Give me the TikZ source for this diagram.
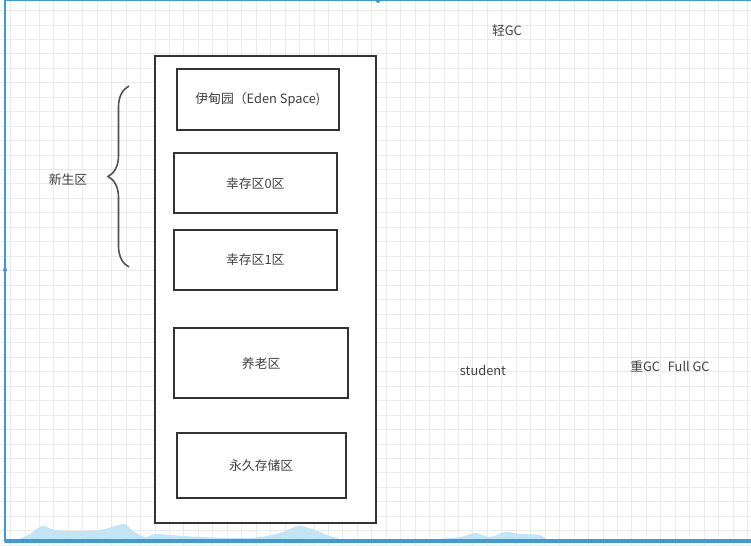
\documentclass[tikz,border=0pt]{standalone}
\usepackage{fontspec}
\setmainfont{Noto Sans CJK SC}
\usetikzlibrary{decorations,decorations.pathreplacing}
\colorlet{gridgray}{black!8}
\definecolor{framedark}{HTML}{333333}
\definecolor{textgray}{HTML}{404040}
\definecolor{edgeblue}{HTML}{3B9BDB}
\definecolor{waveblue}{HTML}{C3E4F3}

\begin{document}
\begin{tikzpicture}[x=0.02cm,y=-0.02cm,
    zone/.style={draw=framedark, line width=1.1pt, fill=white, inner sep=0pt,
        font=\fontsize{7.3}{9}\selectfont, text=textgray},
    note/.style={inner sep=0pt, font=\fontsize{7.3}{9}\selectfont, text=textgray}]
            \useasboundingbox (0,0) rectangle (751,545);
            \fill[white] (0,0) rectangle (751,545);
            \foreach \i in {0,...,51}{
                \draw[gridgray, line width=0.5pt](10.5+\i*14.45,0)--(10.5+\i*14.45,545);
            }
            \foreach \j in {0,...,37}{
                \draw[gridgray, line width=0.5pt](0,10.5+\j*14.45)--(751,10.5+\j*14.45);
            }
            % hills along the bottom edge
            \fill[waveblue] plot[smooth] coordinates {(15,541) (30,534) (42,526) (55,530) (75,531)
                (100,530) (115,526) (125,524) (133,531) (145,537) (155,534) (170,535) (200,537)
                (250,538) (280,533) (298,526) (315,530) (330,536) (350,540) (420,540) (460,537)
                (475,533) (490,537) (505,532) (520,534) (540,535) (548,541)};
            \fill[edgeblue](5,538.8) rectangle (751,542.5);
            \draw[edgeblue, line width=0.6pt](5,0.8)--(751,0.8);
            \draw[edgeblue, line width=0.6pt](5,0)--(5,542);
            \foreach \x/\y in {5/270,378/1}{
                \fill[edgeblue](\x,\y) circle (2);
            }
            % heap and its regions
            \node[zone, minimum width=4.42cm, minimum height=9.35cm] (heap) at (265.5,289.3) {};
            \node[zone, minimum width=3.25cm, minimum height=1.21cm] (eden) at (257.8,99.7) {伊甸园（Eden Space)};
            \node[zone, minimum width=3.25cm, minimum height=1.2cm] (surv0) at (255.3,183.3) {幸存区0区};
            \node[zone, minimum width=3.25cm, minimum height=1.2cm] (surv1) at (255.3,260) {幸存区1区};
            \node[zone, minimum width=3.49cm, minimum height=1.4cm] (old) at (261.2,363.3) {养老区};
            \node[zone, minimum width=3.38cm, minimum height=1.3cm] (perm) at (261.2,465.8) {永久存储区};
            \draw[framedark!85, line width=0.9pt, decorate, decoration={brace, amplitude=0.42cm}](129,267)--(129,86);
            \node[note] (young) at (68,180) {新生区};
            \node[note] (minor) at (507,31) {轻GC};
            \node[note] (obj) at (483,370) {student};
            \node[note] (major) at (670,366) {重GC\hspace{0.6em}Full GC};
\end{tikzpicture}
\end{document}
